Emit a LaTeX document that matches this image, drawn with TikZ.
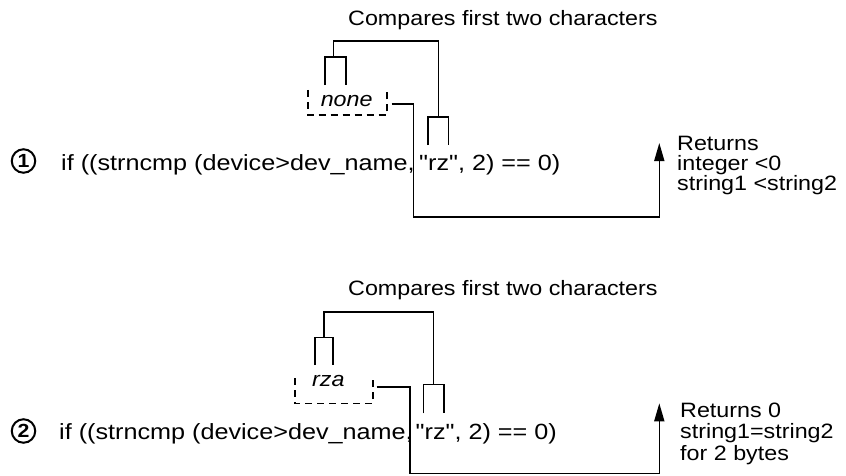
\documentclass[tikz,border=0pt]{standalone}
\usepackage{fontspec}
\setmainfont{Liberation Sans}[FakeStretch=1.12,Ligatures=TeXOff]
\newfontfamily\codefont{Liberation Sans}[FakeStretch=1.145,Ligatures=TeXOff]
\usetikzlibrary{arrows.meta}
\newcommand\mainsz{\codefont\fontsize{22}{26}\selectfont}
\newcommand\smallsz{\fontsize{20.8}{24}\selectfont}
\begin{document}
\begin{tikzpicture}[x=1pt,y=-1pt,
  conn/.style={line width=1.6pt,line join=miter},
  arrowconn/.style={conn,-{Triangle[length=18pt,width=10pt]}},
  dashbox/.style={line width=1.6pt,dash pattern=on 7pt off 5pt},
  holder/.style={inner sep=0pt,minimum width=#1,minimum height=25pt},
  maintext/.style={anchor=base west,inner sep=0pt,font=\mainsz},
  smalltext/.style={anchor=base west,inner sep=0pt,font=\smallsz},
  itext/.style={anchor=base,inner sep=0pt,font=\smallsz\itshape},
  numcirc/.style={circle,draw,line width=2pt,minimum size=23.5pt,inner sep=0pt,font=\bfseries\fontsize{19}{19}\selectfont}]
\useasboundingbox (0,0) rectangle (846,475);

% ---------------- Panel 1 ----------------
\node[smalltext] (cmp1) at (348,25.7) {Compares first two characters};
\node[numcirc] (n1) at (23.5,161) {1};
\node[maintext] (l1) at (61,170) {if ((strncmp (device>dev\_name,};
\node[maintext] (r1) at (419,170) {"rz", 2) == 0)};
\node[holder=78.4pt] (box1) at (347.5,102.5) {};
\node[itext] (none1) at (346.7,106) {none};
\draw[dashbox] (box1.north west) |- (box1.south east) -- (box1.north east);
% bracket
\draw[conn] (325,85) -- (325,56.7) -- (345.7,56.7) -- (345.7,85);
\draw[conn] (427.7,145) -- (427.7,116.7) -- (448.3,116.7) -- (448.3,145);
\draw[conn] (333.3,56.7) -- (333.3,41) -- (438.3,41) -- (438.3,116.7);
% return arrow
\coordinate (s1) at (391.7,104);
\coordinate (t1) at (659.3,143);
\draw[arrowconn] (s1) -- (413.3,104) -- (413.3,216.7) -- (659.3,216.7) -- (t1);
\node[smalltext] (ret1a) at (677,150.7) {Returns};
\node[smalltext] (ret1b) at (677,170.5) {integer <0};
\node[smalltext] (ret1c) at (677,190.3) {string1 <string2};

% ---------------- Panel 2 ----------------
\node[smalltext] (cmp2) at (348,295) {Compares first two characters};
\node[numcirc] (n2) at (23.5,431) {2};
\node[maintext] (l2) at (59,439.5) {if ((strncmp (device>dev\_name,};
\node[maintext] (r2) at (415.5,439.5) {"rz", 2) == 0)};
\node[holder=77.7pt] (box2) at (333.85,390.8) {};
\node[itext] (rza2) at (328.3,386.7) {rza};
\draw[dashbox] (box2.north west) |- (box2.south east) -- (box2.north east);
% bracket
\draw[conn] (315,365) -- (315,337.3) -- (332.7,337.3) -- (332.7,365);
\draw[conn] (423.3,413.3) -- (423.3,384.3) -- (444,384.3) -- (444,413.3);
\draw[conn] (324,337.3) -- (324,311.7) -- (433.3,311.7) -- (433.3,384.3);
% return arrow
\coordinate (s2) at (376.7,386.7);
\coordinate (t2) at (659.3,403.3);
\draw[arrowconn] (s2) -- (410,386.7) -- (410,473.3) -- (659.3,473.3) -- (t2);
\node[smalltext] (ret2a) at (680,417) {Returns 0};
\node[smalltext] (ret2b) at (680,438.7) {string1=string2};
\node[smalltext] (ret2c) at (680,460.3) {for 2 bytes};
\end{tikzpicture}
\end{document}
